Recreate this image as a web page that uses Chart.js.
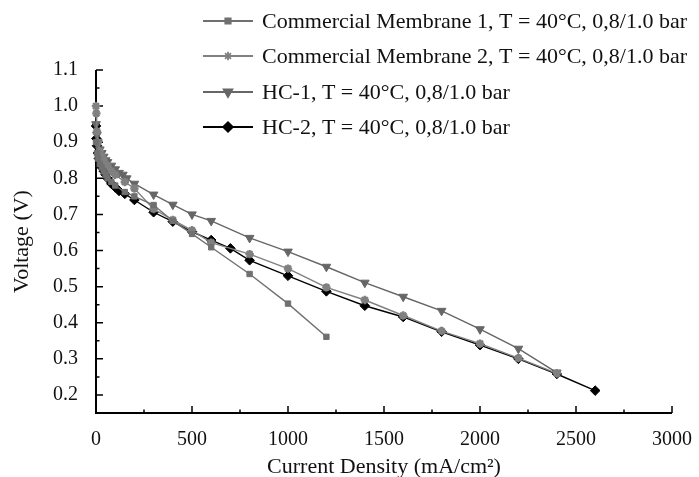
<!DOCTYPE html>
<html lang="en">
<head>
    <meta charset="UTF-8">
    <title>Polarization Curves</title>
    <script src="https://cdn.jsdelivr.net/npm/chart.js"></script>
    <style>
        body { margin: 0; background: #fff; }
        #wrap { width: 699px; height: 477px; }
    </style>
</head>
<body>
    <div id="wrap"><canvas id="polChart" width="699" height="477"></canvas></div>

    <script>
        // data
        let seriesNames = [
            'Commercial Membrane 1, T = 40°C, 0,8/1.0 bar',
            'Commercial Membrane 2, T = 40°C, 0,8/1.0 bar',
            'HC-1, T = 40°C, 0,8/1.0 bar',
            'HC-2, T = 40°C, 0,8/1.0 bar'
        ];

        let cm1Current = [0, 5, 10, 20, 30, 40, 50, 60, 80, 100, 150, 200, 300, 400, 500, 600, 800, 1000, 1200];
        let cm1Voltage = [0.90, 0.87, 0.855, 0.84, 0.83, 0.82, 0.81, 0.80, 0.79, 0.78, 0.762, 0.75, 0.726, 0.682, 0.646, 0.609, 0.535, 0.453, 0.361];

        let cm2Current = [0, 2, 5, 10, 20, 30, 40, 60, 80, 100, 150, 200, 300, 400, 500, 600, 800, 1000, 1200, 1400, 1600, 1800, 2000, 2200, 2400];
        let cm2Voltage = [1.0, 0.98, 0.93, 0.90, 0.875, 0.86, 0.85, 0.835, 0.82, 0.81, 0.79, 0.772, 0.715, 0.685, 0.656, 0.622, 0.59, 0.55, 0.498, 0.463, 0.42, 0.377, 0.342, 0.302, 0.26];

        let hc1Current = [0, 5, 10, 20, 30, 40, 50, 60, 80, 100, 120, 140, 160, 200, 300, 400, 500, 600, 800, 1000, 1200, 1400, 1600, 1800, 2000, 2200, 2400];
        let hc1Voltage = [0.95, 0.92, 0.90, 0.88, 0.87, 0.86, 0.85, 0.845, 0.835, 0.825, 0.815, 0.81, 0.80, 0.785, 0.755, 0.727, 0.70, 0.682, 0.635, 0.597, 0.555, 0.511, 0.472, 0.433, 0.382, 0.328, 0.262];

        let hc2Current = [0, 2, 5, 10, 15, 20, 30, 40, 50, 60, 80, 100, 120, 150, 200, 300, 400, 500, 600, 700, 800, 1000, 1200, 1400, 1600, 1800, 2000, 2200, 2400, 2600];
        let hc2Voltage = [0.945, 0.91, 0.89, 0.87, 0.855, 0.845, 0.83, 0.82, 0.81, 0.80, 0.785, 0.775, 0.765, 0.757, 0.74, 0.706, 0.68, 0.652, 0.629, 0.606, 0.573, 0.53, 0.487, 0.447, 0.416, 0.375, 0.338, 0.30, 0.258, 0.212];

        let xTickValues = [0, 500, 1000, 1500, 2000, 2500, 3000];
        let xMinorValues = [250, 750, 1250, 1750, 2250, 2750];
        let yTickValues = [0.2, 0.3, 0.4, 0.5, 0.6, 0.7, 0.8, 0.9, 1.0, 1.1];
        let yMinorValues = [0.25, 0.35, 0.45, 0.55, 0.65, 0.75, 0.85, 0.95, 1.05];

        function toPoints(xs, ys) {
            return xs.map((x, i) => ({ x: x, y: ys[i] }));
        }

        let serif = '"Liberation Serif", "Times New Roman", serif';
        Chart.defaults.font.family = serif;
        Chart.defaults.font.size = 20;
        Chart.defaults.color = '#111';

        let datasets = [
            { label: seriesNames[0], data: toPoints(cm1Current, cm1Voltage), borderColor: '#707070', backgroundColor: '#707070',
              pointStyle: 'rect', pointRadius: 3.8, pointBorderWidth: 1 },
            { label: seriesNames[1], data: toPoints(cm2Current, cm2Voltage), borderColor: '#808080', backgroundColor: '#808080',
              pointStyle: 'star', pointRadius: 4.2, pointBorderWidth: 2.4 },
            { label: seriesNames[2], data: toPoints(hc1Current, hc1Voltage), borderColor: '#666', backgroundColor: '#666',
              pointStyle: 'triangle', pointRotation: 180, pointRadius: 5, pointBorderWidth: 1 },
            { label: seriesNames[3], data: toPoints(hc2Current, hc2Voltage), borderColor: '#000', backgroundColor: '#000',
              pointStyle: 'rectRot', pointRadius: 4.8, pointBorderWidth: 1 }
        ];
        datasets.forEach(d => {
            d.borderWidth = 1.4;
            d.fill = false;
            d.tension = 0;
            d.clip = false;
            d.pointBorderColor = d.borderColor;
            d.pointBackgroundColor = d.backgroundColor;
        });

        // axes drawn by hand: ticks point inward, no box
        let axisPlugin = {
            id: 'axisPlugin',
            beforeDatasetsDraw(chart) {
                let ctx = chart.ctx;
                let a = chart.chartArea;
                let xs = chart.scales.x, ys = chart.scales.y;
                ctx.save();
                ctx.strokeStyle = '#000';
                ctx.lineWidth = 2;
                ctx.beginPath();
                ctx.moveTo(a.left, a.top);
                ctx.lineTo(a.left, a.bottom);
                ctx.lineTo(a.right, a.bottom);
                ctx.stroke();
                ctx.lineWidth = 1.5;
                ctx.beginPath();
                xTickValues.forEach(v => { let p = xs.getPixelForValue(v); ctx.moveTo(p, a.bottom); ctx.lineTo(p, a.bottom - 7); });
                xMinorValues.forEach(v => { let p = xs.getPixelForValue(v); ctx.moveTo(p, a.bottom); ctx.lineTo(p, a.bottom - 3.5); });
                yTickValues.forEach(v => { let p = ys.getPixelForValue(v); ctx.moveTo(a.left, p); ctx.lineTo(a.left + 7, p); });
                yMinorValues.forEach(v => { let p = ys.getPixelForValue(v); ctx.moveTo(a.left, p); ctx.lineTo(a.left + 3.5, p); });
                ctx.stroke();
                ctx.restore();
            },
            afterDraw(chart) {
                // legend sits over the top of the plot
                let ctx = chart.ctx;
                let rows = [21, 56, 92, 127];
                ctx.save();
                chart.data.datasets.forEach((d, i) => {
                    let y = rows[i];
                    ctx.strokeStyle = d.borderColor;
                    ctx.lineWidth = 1.8;
                    ctx.beginPath();
                    ctx.moveTo(203, y);
                    ctx.lineTo(253, y);
                    ctx.stroke();
                    ctx.fillStyle = d.backgroundColor;
                    Chart.helpers.drawPoint(ctx, {
                        pointStyle: d.pointStyle, radius: d.pointRadius,
                        rotation: d.pointRotation || 0, borderWidth: d.pointBorderWidth
                    }, 228, y);
                    ctx.fillStyle = '#111';
                    ctx.font = '22px ' + serif;
                    ctx.textBaseline = 'middle';
                    ctx.textAlign = 'left';
                    ctx.fillText(d.label, 262, y + 1);
                });
                ctx.restore();
            }
        };

        let chart = new Chart(document.getElementById('polChart').getContext('2d'), {
            type: 'line',
            data: { datasets: datasets },
            plugins: [axisPlugin],
            options: {
                responsive: false,
                animation: false,
                layout: { padding: { left: 0, right: 19, top: 70, bottom: 0 } },
                plugins: { legend: { display: false }, tooltip: { enabled: false } },
                scales: {
                    x: {
                        type: 'linear', min: 0, max: 3000,
                        grid: { display: false }, border: { display: false },
                        ticks: { padding: 7, maxRotation: 0, color: '#111', callback: v => String(v) },
                        afterBuildTicks: s => { s.ticks = xTickValues.map(v => ({ value: v })); },
                        afterFit: s => { s.height = 64; },
                        title: { display: true, text: 'Current Density (mA/cm²)', color: '#111', font: { size: 22 }, padding: { top: 0, bottom: -3 } }
                    },
                    y: {
                        type: 'linear', min: 0.15, max: 1.1,
                        grid: { display: false }, border: { display: false },
                        ticks: { padding: 10, color: '#111', callback: v => Number(v).toFixed(1) },
                        afterBuildTicks: s => { s.ticks = yTickValues.map(v => ({ value: v })); },
                        afterFit: s => { s.width = 96; },
                        title: { display: true, text: 'Voltage (V)', color: '#111', font: { size: 22 }, padding: { top: 9, bottom: 0 } }
                    }
                }
            }
        });
    </script>
</body>
</html>
